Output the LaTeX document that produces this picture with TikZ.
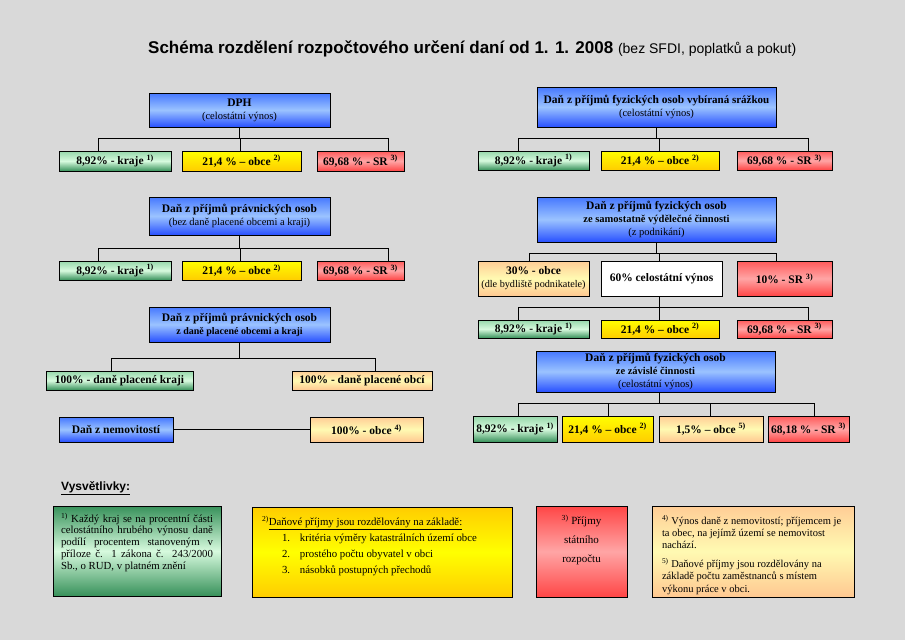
\documentclass[tikz,border=0pt]{standalone}
\usepackage{fontspec}
\setmainfont{Liberation Serif}
\newfontfamily\arialfont{Liberation Sans}
\usetikzlibrary{shadows}

\newcommand{\fsz}[2]{\fontsize{#1}{#2}\selectfont}
\newcommand{\pozn}[1]{\textsuperscript{#1)}}
\newcommand{\jline}[2]{\makebox[#1][s]{#2}}

\definecolor{pozadi}{RGB}{217,217,217}
\definecolor{modraT}{RGB}{70,120,255}
\definecolor{modraM}{RGB}{155,195,255}
\definecolor{modraB}{RGB}{40,80,255}
\definecolor{zelenaT}{RGB}{150,215,170}
\definecolor{zelenaM}{RGB}{215,250,222}
\definecolor{zelenaB}{RGB}{55,145,90}
\definecolor{zlutaT}{RGB}{255,255,0}
\definecolor{zlutaB}{RGB}{255,205,0}
\definecolor{cervenaT}{RGB}{255,90,90}
\definecolor{cervenaM}{RGB}{255,165,165}
\definecolor{cervenaB}{RGB}{255,70,70}
\definecolor{brosT}{RGB}{255,205,150}
\definecolor{brosM}{RGB}{255,250,178}
\definecolor{brosB}{RGB}{255,200,145}

\begin{document}
\begin{tikzpicture}[x=1pt, y=-1pt,
    box/.style={draw=black, line width=0.8pt, inner sep=1pt, align=center,
                font=\bfseries\fsz{11.5}{13},
                drop shadow={shadow xshift=1.2pt, shadow yshift=-1.2pt, fill=black!75, opacity=1}},
    lbox/.style={draw=black, line width=0.8pt, inner sep=0pt, font=\fsz{10}{12},
                drop shadow={shadow xshift=1.2pt, shadow yshift=-1.2pt, fill=black!75, opacity=1}},
    wh/.style 2 args={minimum width=#1pt, minimum height=#2pt},
    hlava/.style={box, top color=modraT, bottom color=modraB, middle color=modraM},
    kraje/.style={box, top color=zelenaT, bottom color=zelenaB, middle color=zelenaM},
    obce/.style={box, top color=zlutaT, bottom color=zlutaB},
    sr/.style={box, top color=cervenaT, bottom color=cervenaB, middle color=cervenaM},
    bros/.style={box, top color=brosT, bottom color=brosB, middle color=brosM},
    link/.style={draw=black, line width=1pt}]

  \fill[pozadi] (0,0) rectangle (905,640);
  \useasboundingbox (0,0) rectangle (905,640);

  % nadpis
  \node[anchor=base west, inner sep=0pt, font=\arialfont\bfseries\fsz{17}{20}] (titulek) at (148,53)
    {Schéma rozdělení rozpočtového určení daní od 1. 1. 2008 {\mdseries\fsz{14}{16}(bez SFDI, poplatků a pokut)}};

  % levy sloupec
  \node[hlava, wh={181}{34}] (dph) at (239.5,110) {DPH\\{\mdseries\fsz{10.5}{11}(celostátní výnos)}};
  \node[kraje, wh={112}{20}] (dk1) at (115,161) {8,92\% - kraje \pozn{1}};
  \node[obce, wh={119}{20}] (do1) at (241.5,161) {21,4 \% – obce \pozn{2}};
  \node[sr, wh={87}{20}] (dsr1) at (360.5,161) {69,68 \% - SR \pozn{3}};

  \node[hlava, wh={181}{38}] (ppo1) at (239.5,216) {Daň z příjmů právnických osob\\{\mdseries\fsz{10.5}{11}(bez daně placené obcemi a kraji)}};
  \node[kraje, wh={112}{19}] (pk1) at (115,270.5) {8,92\% - kraje \pozn{1}};
  \node[obce, wh={119}{19}] (po1) at (241.5,270.5) {21,4 \% – obce \pozn{2}};
  \node[sr, wh={87}{19}] (psr1) at (360.5,270.5) {69,68 \% - SR \pozn{3}};

  \node[hlava, wh={181}{35}] (ppo2) at (239.5,324.5) {Daň z příjmů právnických osob\\{\fsz{10}{11}z daně placené obcemi a kraji}};
  \node[kraje, wh={147}{19}] (pkr) at (119.5,380.5) {100\% - daně placené kraji};
  \node[bros, wh={140}{19}] (pob) at (362,380.5) {100\% - daně placené obcí};

  \node[hlava, wh={114}{25}] (nem) at (116,429.5) {Daň z nemovitostí};
  \node[bros, wh={113}{25}] (nemo) at (366.5,429.5) {100\% - obce \pozn{4}};

  % pravy sloupec
  \node[hlava, wh={239}{40}] (fs1) at (656.5,107) {Daň z příjmů fyzických osob {\fsz{11}{13}vybíraná srážkou}\\{\mdseries\fsz{10.5}{11}(celostátní výnos)}};
  \node[kraje, wh={111}{19}] (fk1) at (533.5,160.5) {8,92\% - kraje \pozn{1}};
  \node[obce, wh={118}{19}] (fo1) at (660,160.5) {21,4 \% – obce \pozn{2}};
  \node[sr, wh={95}{19}] (fsr1) at (784.5,160.5) {69,68 \% - SR \pozn{3}};

  \node[hlava, wh={239}{45}] (fs2) at (656.5,219.5) {Daň z příjmů fyzických osob\\{\fsz{10.5}{11}ze samostatně výdělečné činnosti}\\{\mdseries\fsz{10.5}{11}(z podnikání)}};
  \node[bros, wh={111}{35}] (fo30) at (533.5,278.5) {30\% - obce\\{\mdseries\fsz{10.2}{11}(dle bydliště podnikatele)}};
  \node[box, fill=white, wh={121}{35}] (fc60) at (661.5,278.5) {60\% celostátní výnos};
  \node[sr, wh={95}{35}] (fsr10) at (784.5,278.5) {10\% - SR \pozn{3}};
  \node[kraje, wh={111}{18}] (fk2) at (533.5,329) {8,92\% - kraje \pozn{1}};
  \node[obce, wh={118}{18}] (fo2) at (660,329) {21,4 \% – obce \pozn{2}};
  \node[sr, wh={95}{18}] (fsr2) at (784.5,329) {69,68 \% - SR \pozn{3}};

  \node[hlava, wh={239}{41}] (fs3) at (655.5,371.5) {Daň z příjmů fyzických osob\\{\fsz{10.5}{11}ze závislé činnosti}\\{\mdseries\fsz{10.5}{11}(celostátní výnos)}};
  \node[kraje, wh={84}{26}] (gk) at (515,429) {8,92\% - kraje \pozn{1}};
  \node[obce, wh={91}{26}] (go) at (607.5,429) {21,4 \% – obce \pozn{2}};
  \node[bros, wh={104}{26}] (go5) at (711,429) {1,5\% – obce \pozn{5}};
  \node[sr, wh={81}{26}] (gsr) at (808.5,429) {68,18 \% - SR \pozn{3}};

  % spojnice
  \draw[link] (dph.south) -- ++(0,11) coordinate (d0) -| (dk1.north -| 98,0);
  \draw[link] (d0) -| (do1.north -| 240,0);
  \draw[link] (d0) -| (dsr1.north -| 388,0);
  \draw[link] (ppo1.south) -- ++(0,13) coordinate (p0) -| (pk1.north -| 98,0);
  \draw[link] (p0) -| (po1.north -| 240,0);
  \draw[link] (p0) -| (psr1.north -| 388,0);
  \draw[link] (ppo2.south) -- ++(0,16) coordinate (q0) -| (pkr.north -| 111,0);
  \draw[link] (q0) -| (pob.north -| 375,0);
  \draw[link] (nem.east) -- (nemo.west);

  \draw[link] (fs1.south) -- ++(0,11) coordinate (f0) -| (fk1.north -| 518,0);
  \draw[link] (f0) -| (fo1.north -| 659,0);
  \draw[link] (f0) -| (fsr1.north -| 808,0);
  \draw[link] (fs2.south) -- ++(0,11) coordinate (s0) -| (fo30.north -| 529,0);
  \draw[link] (s0) -| (fc60.north -| 659,0);
  \draw[link] (s0) -| (fsr10.north -| 776,0);
  \draw[link] (fc60.south -| 659,0) -- ++(0,11) coordinate (c0) -| (fk2.north -| 518,0);
  \draw[link] (c0) -| (fo2.north -| 659,0);
  \draw[link] (c0) -| (fsr2.north -| 808,0);
  \draw[link] (fs3.south -| 659,0) -- ++(0,11) coordinate (z0) -| (gk.north -| 518,0);
  \draw[link] (z0) -| (go.north -| 608,0);
  \draw[link] (z0) -| (go5.north -| 710,0);
  \draw[link] (z0) -| (gsr.north -| 814,0);

  % vysvetlivky
  \node[anchor=base west, inner sep=0pt, font=\arialfont\bfseries\fsz{12}{14}] (vysv) at (61,490) {\underline{Vysvětlivky:}};

  \node[lbox, wh={168}{90}, top color=zelenaB, bottom color=zelenaB, middle color=zelenaM] (v1) at (137,551)
    {\parbox[c][90pt][t]{152pt}{\vspace*{7pt}\fsz{10.8}{11.7}%
      \jline{152pt}{\pozn{1} Každý kraj se na procentní části}\\
      \jline{152pt}{celostátního hrubého výnosu daně}\\
      \jline{152pt}{podílí procentem stanoveným v}\\
      \jline{152pt}{příloze č. 1 zákona č. 243/2000}\\
      Sb., o RUD, v platném znění}};

  \node[lbox, wh={260}{90}, top color=zlutaB, bottom color=zlutaB, middle color=zlutaT] (v2) at (382,552)
    {\parbox[c][90pt][t]{240pt}{\vspace*{9pt}\fsz{10.8}{16}%
      \pozn{2}\underline{Daňové příjmy jsou rozdělovány na základě:}\\
      \hspace*{20pt}\makebox[18pt][l]{1.}kritéria výměry katastrálních území obce\\
      \hspace*{20pt}\makebox[18pt][l]{2.}prostého počtu obyvatel v obci\\
      \hspace*{20pt}\makebox[18pt][l]{3.}násobků postupných přechodů}};

  \node[lbox, wh={91}{91}, top color=cervenaB, bottom color=cervenaB, middle color=cervenaM] (v3) at (581.5,551.5)
    {\parbox[c][91pt][t]{85pt}{\centering\vspace*{9pt}\fsz{11}{19}%
      \pozn{3} Příjmy\\ státního\\ rozpočtu}};

  \node[lbox, wh={202}{91}, top color=brosT, bottom color=brosB, middle color=brosM] (v4) at (753,551.5)
    {\parbox[c][91pt][t]{182pt}{\vspace*{9pt}\fsz{10.5}{12.3}%
      \pozn{4} Výnos daně z nemovitostí; příjemcem je\\
      ta obec, na jejímž území se nemovitost\\
      nachází.\\[6.7pt]
      \pozn{5} Daňové příjmy jsou rozdělovány na\\
      základě počtu zaměstnanců s místem\\
      výkonu práce v obci.}};
\end{tikzpicture}
\end{document}
